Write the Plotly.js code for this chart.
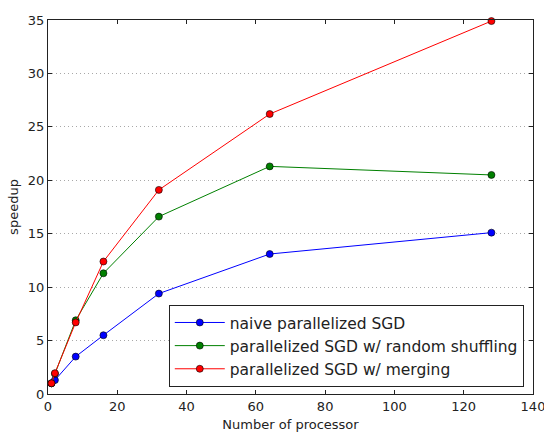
<!DOCTYPE html>
<html>
<head>
<meta charset="utf-8">
<script src="https://cdn.plot.ly/plotly-3.0.1.min.js"></script>
<style>
  html, body { margin: 0; padding: 0; background: #fff; }
  #chart { width: 544px; height: 432px; }
</style>
</head>
<body>
<div id="chart"></div>
<script>
// Number of processors used in each run
const processors = [1, 2, 8, 16, 32, 64, 128];

// Measured speedup for each SGD variant
const naiveSpeedup   = [1.0, 1.3, 3.5, 5.5, 9.4, 13.1, 15.1];
const shuffleSpeedup = [1.0, 1.9, 6.9, 11.3, 16.6, 21.3, 20.5];
const mergeSpeedup   = [1.0, 1.95, 6.7, 12.4, 19.1, 26.2, 34.9];

const seriesNames = [
  'naive parallelized SGD',
  'parallelized SGD w/ random shuffling',
  'parallelized SGD w/ merging'
];

function series(y, name, color) {
  return {
    x: processors, y: y, name: name,
    type: 'scatter', mode: 'lines+markers',
    line: { color: color, width: 1 },
    marker: { color: color, size: 7, line: { color: '#000', width: 0.6 } },
    cliponaxis: false
  };
}

const data = [
  series(naiveSpeedup, seriesNames[0], '#0000ff'),
  series(shuffleSpeedup, seriesNames[1], '#008000'),
  series(mergeSpeedup, seriesNames[2], '#ff0000')
];

const axisFont = { family: 'DejaVu Sans', size: 13, color: '#222' };

const layout = {
  width: 544, height: 432,
  margin: { l: 48, r: 11, t: 20, b: 38 },
  paper_bgcolor: '#fff', plot_bgcolor: '#fff',
  font: { family: 'DejaVu Sans', color: '#222' },
  showlegend: true,
  legend: {
    x: 0.981, y: 0.019, xanchor: 'right', yanchor: 'bottom',
    bgcolor: '#fff', bordercolor: '#222', borderwidth: 1,
    font: { family: 'DejaVu Sans', size: 15.5, color: '#222' },
    itemwidth: 50, tracegroupgap: 0
  },
  xaxis: {
    range: [0, 140], dtick: 20, tick0: 0,
    showgrid: false, zeroline: false,
    showline: true, linecolor: '#222', linewidth: 1, mirror: 'ticks',
    ticks: 'inside', ticklen: 4, tickcolor: '#222',
    tickfont: axisFont, ticklabeloverflow: 'allow',
    title: { text: 'Number of processor', font: axisFont, standoff: 8 }
  },
  yaxis: {
    range: [0, 35], dtick: 5, tick0: 0,
    showgrid: true, gridcolor: '#a8a8a8', griddash: '1px,3px', gridwidth: 1,
    zeroline: false,
    showline: true, linecolor: '#222', linewidth: 1, mirror: 'ticks',
    ticks: 'inside', ticklen: 4, tickcolor: '#222',
    tickfont: axisFont, ticklabeloverflow: 'allow',
    title: { text: 'speedup', font: axisFont, standoff: 6 }
  }
};

Plotly.newPlot('chart', data, layout, { displayModeBar: false, staticPlot: true });
</script>
</body>
</html>
